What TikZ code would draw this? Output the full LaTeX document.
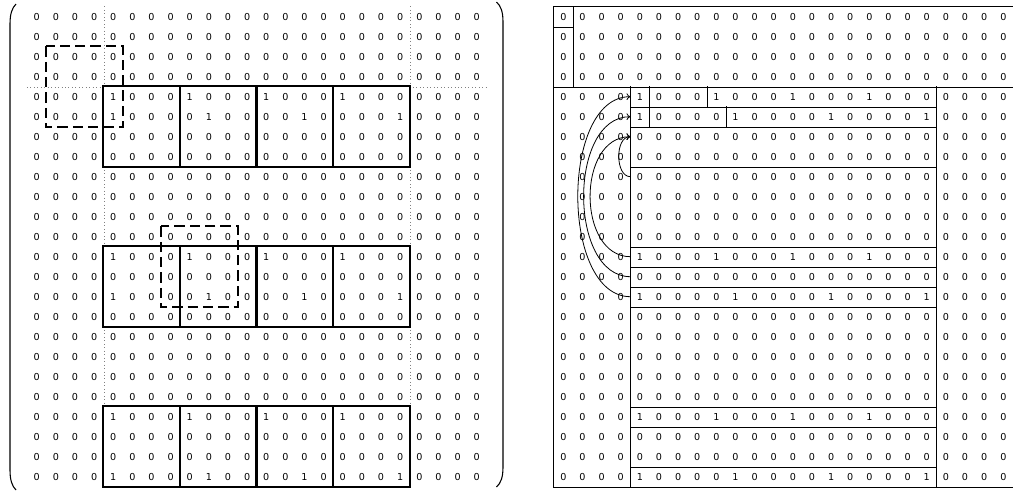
\documentclass[tikz,border=0pt]{standalone}
\usepackage{fontspec}
\setmainfont{DejaVu Sans}
\usetikzlibrary{arrows.meta}
\tikzset{
  cell/.style={inner sep=0pt, minimum width=14.35pt, minimum height=15pt,
    font=\fontsize{7.2}{8}\selectfont},
  blk/.style={line width=1.5pt},
  dashbox/.style={line width=1.5pt, dash pattern=on 7.7pt off 3.8pt},
  gap/.style={gray, dotted, line width=0.6pt},
  rule/.style={line width=0.7pt},
  link/.style={-{To[length=3pt,width=5pt]}, line width=0.6pt},
  paren/.style={line width=0.8pt},
}
\newcommand{\rowZ}{0,0,0,0,0,0,0,0,0,0,0,0,0,0,0,0,0,0,0,0,0,0,0,0}
\newcommand{\rowA}{0,0,0,0,1,0,0,0,1,0,0,0,1,0,0,0,1,0,0,0,0,0,0,0}
\newcommand{\rowB}{0,0,0,0,1,0,0,0,0,1,0,0,0,0,1,0,0,0,0,1,0,0,0,0}
\newcommand{\rowkinds}{Z,Z,Z,Z,A,B,Z,Z,Z,Z,Z,Z,A,Z,B,Z,Z,Z,Z,Z,A,Z,Z,B}
% 24x24 digits, nodes named #1-row-col, first column at x=#2
\newcommand{\digitgrid}[2]{%
  \foreach \k [count=\r from 0] in \rowkinds {%
    \expandafter\let\expandafter\thisrow\csname row\k\endcsname
    \foreach \v [count=\c from 0] in \thisrow
      \node[cell] (#1-\r-\c) at ({#2+\c*19.13},{16.7+\r*20}) {\v};}}

\begin{document}
\begin{tikzpicture}[x=0.75pt, y=-0.75pt]
  \useasboundingbox (0,0) rectangle (1013,494);
  % left: the padded matrix
  \digitgrid{L}{36.7}
  \draw[paren] (16,4) .. controls (12,8) and (10,14) .. (10,24) -- (10,470)
    .. controls (10,480) and (12,486) .. (16,490);
  \draw[paren] (496.5,2) .. controls (501,6) and (503,12) .. (503,22) -- (503,467)
    .. controls (503,477) and (501,483) .. (496.5,487);
  \foreach \ra/\rb in {0/3,8/11,16/19}{
    \draw[gap] (L-\ra-3.north east) -- (L-\rb-3.south east);
    \draw[gap] (L-\ra-19.north east) -- (L-\rb-19.south east);}
  \draw[gap] (L-3-0.south west) -- (L-3-3.south east);
  \draw[gap] (L-3-20.south west) -- (L-3-23.south east);
  \foreach \r/\rr in {4/7,12/15,20/23}
    \foreach \c/\cc in {4/7,8/11,12/15,16/19}
      \draw[blk] (L-\r-\c.north west) rectangle (L-\rr-\cc.south east);
  \draw[dashbox] (L-2-1.north west) rectangle (L-5-4.south east);
  \draw[dashbox] (L-11-7.north west) rectangle (L-14-10.south east);
  % right: the same values as a table
  \digitgrid{R}{563.3}
  \draw[rule] (R-0-23.north east) -- (R-0-0.north west) -- (R-23-0.south west)
    -- (R-23-23.south east);
  \draw[rule] (R-0-0.north east) -- (R-3-0.south east);
  \draw[rule] (R-0-0.south west) -- (R-0-0.south east);
  \draw[rule] (R-3-0.south west) -- (R-3-23.south east);
  \draw[rule] (R-4-3.north east) -- (R-23-3.south east);
  \draw[rule] (R-4-19.north east) -- (R-23-19.south east);
  \foreach \r in {4,5,7,11,12,13,14,19,20,22}
    \draw[rule] (R-\r-3.south east) -- (R-\r-19.south east);
  \draw[rule] (R-4-4.north east) -- (R-5-4.south east);
  \draw[rule] (R-4-7.north east) -- (R-4-7.south east);
  \draw[rule] (R-5-8.north east) -- (R-5-8.south east);
  \draw[link] (R-14-3.east) to[out=180, in=180, looseness=0.9] (R-4-3.east);
  \draw[link] (R-13-3.east) to[out=180, in=180] (R-5-3.east);
  \draw[link] (R-12-3.east) to[out=180, in=180, looseness=1.15] (R-6-3.east);
  \draw[link] (R-8-3.east) to[out=180, in=180] (R-6-3.east);
\end{tikzpicture}
\end{document}
